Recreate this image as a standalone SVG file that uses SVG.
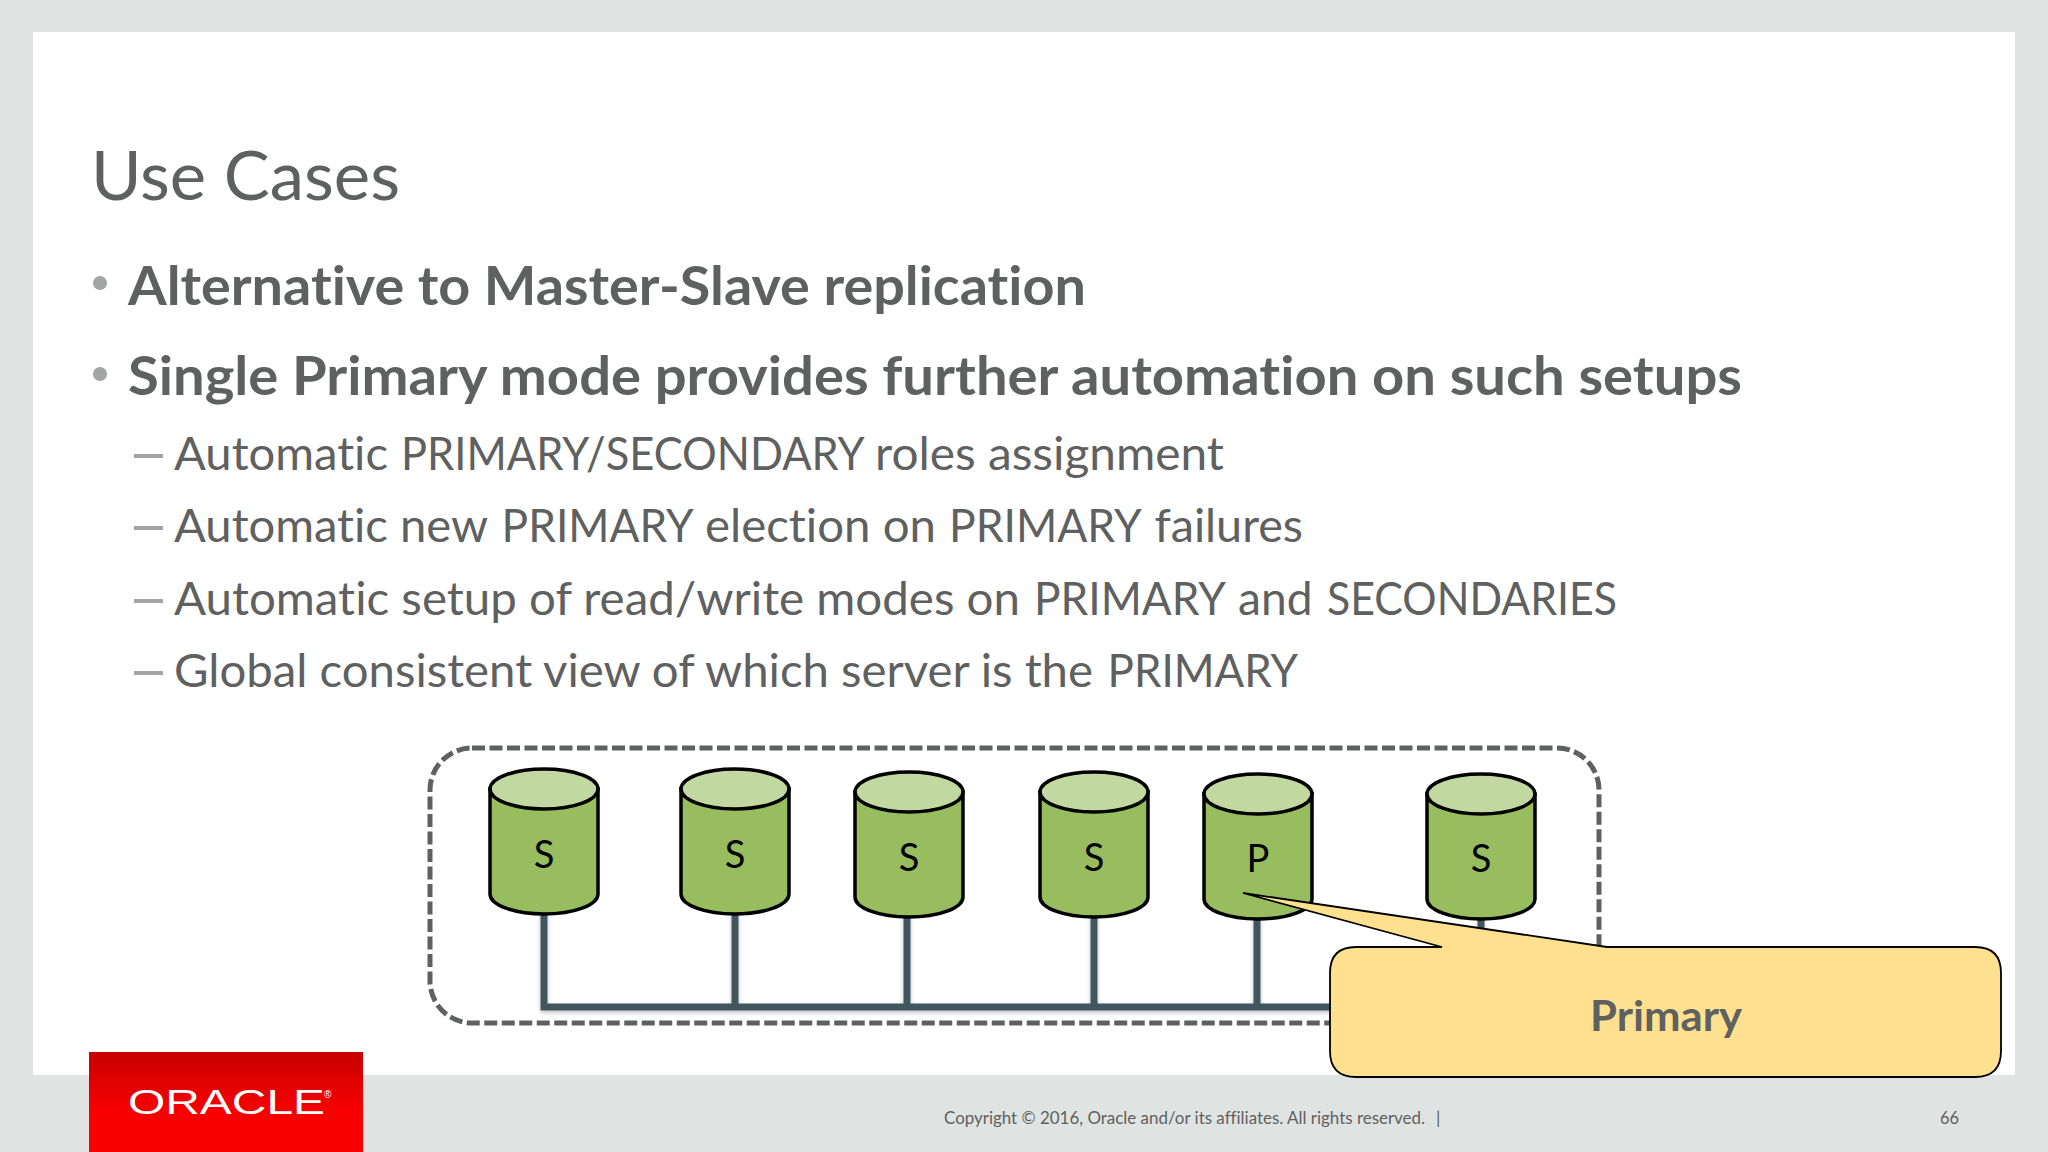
<svg xmlns="http://www.w3.org/2000/svg" width="2048" height="1152" viewBox="0 0 2048 1152">
<style>
text{font-family:"Lato","Open Sans",sans-serif;fill:#5f6060;font-variant-ligatures:none}
.b{font-weight:700;font-size:54px}
.s{font-size:47px}
.dash{fill:#a3a5a5}
.cyl path{fill:#97bd5f;stroke:#000;stroke-width:3.5}
.cyl ellipse{fill:#c1d9a1;stroke:#000;stroke-width:3.5}
.cyl text{fill:#000;font-size:38px;text-anchor:middle}
.ln{fill:none;stroke:#43565f;stroke-width:7}
</style>
<defs>
<linearGradient id="red" x1="0" y1="0" x2="0" y2="1"><stop offset="0" stop-color="#c80000"/><stop offset="0.6" stop-color="#f80000"/></linearGradient>
<filter id="sh" x="-5%" y="-5%" width="110%" height="115%"><feDropShadow dx="0" dy="2" stdDeviation="2" flood-color="#000" flood-opacity="0.25"/></filter>
</defs>
<rect width="2048" height="1152" fill="#dfe4e3"/>
<rect x="33" y="32" width="1982" height="1043" fill="#fff"/>
<g id="logo"><rect x="89" y="1052" width="274" height="100" fill="url(#red)"/>
<text x="128" y="1114" font-size="35" textLength="197" lengthAdjust="spacingAndGlyphs" style="font-family:'Liberation Sans',sans-serif;fill:#fff">ORACLE</text>
<text x="324" y="1098" font-size="10" style="font-family:'Liberation Sans',sans-serif;fill:#fff">®</text></g>
<text id="title" x="91" y="199.500" font-size="68" textLength="309" lengthAdjust="spacingAndGlyphs">Use Cases</text>
<g id="bullets">
<circle class="dash" cx="100" cy="283" r="7"/><circle class="dash" cx="100" cy="374" r="7"/>
<text class="b" x="128" y="305" textLength="958" lengthAdjust="spacingAndGlyphs">Alternative to Master-Slave replication</text>
<text class="b" x="128" y="395" textLength="1614" lengthAdjust="spacingAndGlyphs">Single Primary mode provides further automation on such setups</text>
<rect class="dash" x="134" y="454" width="29" height="4"/><rect class="dash" x="134" y="526" width="29" height="4"/><rect class="dash" x="134" y="599" width="29" height="4"/><rect class="dash" x="134" y="671" width="29" height="4"/>
<text class="s" y="470"><tspan x="174" textLength="214" lengthAdjust="spacingAndGlyphs">Automatic</tspan> <tspan x="401" textLength="462" lengthAdjust="spacingAndGlyphs">PRIMARY/SECONDARY</tspan> <tspan x="875" textLength="349" lengthAdjust="spacingAndGlyphs">roles assignment</tspan></text>
<text class="s" y="542"><tspan x="174" textLength="313" lengthAdjust="spacingAndGlyphs">Automatic new</tspan> <tspan x="501.500" textLength="190.500" lengthAdjust="spacingAndGlyphs">PRIMARY</tspan> <tspan x="705" textLength="231" lengthAdjust="spacingAndGlyphs">election on</tspan> <tspan x="949" textLength="191" lengthAdjust="spacingAndGlyphs">PRIMARY</tspan> <tspan x="1154.500" textLength="148.500" lengthAdjust="spacingAndGlyphs">failures</tspan></text>
<text class="s" y="615"><tspan x="174" textLength="846" lengthAdjust="spacingAndGlyphs">Automatic setup of read/write modes on</tspan> <tspan x="1034" textLength="190" lengthAdjust="spacingAndGlyphs">PRIMARY</tspan> <tspan x="1238" textLength="74.500" lengthAdjust="spacingAndGlyphs">and</tspan> <tspan x="1327" textLength="290" lengthAdjust="spacingAndGlyphs">SECONDARIES</tspan></text>
<text class="s" y="687"><tspan x="174" textLength="919" lengthAdjust="spacingAndGlyphs">Global consistent view of which server is the</tspan> <tspan x="1107.500" textLength="190.500" lengthAdjust="spacingAndGlyphs">PRIMARY</tspan></text>
</g>
<rect id="cluster" x="430" y="748" width="1169" height="275" rx="42" fill="none" stroke="#5f6060" stroke-width="5" stroke-dasharray="13 4.500"/>
<g id="connectors" filter="url(#sh)">
<path class="ln" d="M544 912V1007H1340"/>
<path class="ln" d="M735 912V1007M907 915V1007M1094 915V1007M1257 917V1007M1481 917V960"/>
</g>
<g id="n1" class="cyl"><path d="M490 789V894A54 20 0 0 0 598 894V789Z"/><ellipse cx="544" cy="789" rx="54" ry="20"/><text x="544" y="868">S</text></g>
<g id="n2" class="cyl"><path d="M681 789V894A54 20 0 0 0 789 894V789Z"/><ellipse cx="735" cy="789" rx="54" ry="20"/><text x="735" y="868">S</text></g>
<g id="n3" class="cyl"><path d="M855 792V897A54 20 0 0 0 963 897V792Z"/><ellipse cx="909" cy="792" rx="54" ry="20"/><text x="909" y="870.500">S</text></g>
<g id="n4" class="cyl"><path d="M1040 792V897A54 20 0 0 0 1148 897V792Z"/><ellipse cx="1094" cy="792" rx="54" ry="20"/><text x="1094" y="870.500">S</text></g>
<g id="n5" class="cyl"><path d="M1204 794V899A54 20 0 0 0 1312 899V794Z"/><ellipse cx="1258" cy="794" rx="54" ry="20"/><text x="1258" y="872">P</text></g>
<g id="n6" class="cyl"><path d="M1427 794V899A54 20 0 0 0 1535 899V794Z"/><ellipse cx="1481" cy="794" rx="54" ry="20"/><text x="1481" y="872">S</text></g>
<g id="callout">
<path d="M1356 947H1442L1243 893L1607 947H1975Q2001 947 2001 973V1051Q2001 1077 1975 1077H1356Q1330 1077 1330 1051V973Q1330 947 1356 947Z" fill="#fee08f" stroke="#000" stroke-width="1.800"/>
<text x="1590" y="1031" font-size="42" font-weight="700" textLength="152" lengthAdjust="spacingAndGlyphs">Primary</text>
</g>
<g id="footer">
<text x="944" y="1124" font-size="17.500" textLength="481" lengthAdjust="spacingAndGlyphs">Copyright © 2016, Oracle and/or its affiliates. All rights reserved.</text>
<text x="1436" y="1124" font-size="17.500">|</text>
<text x="1940" y="1124" font-size="17.500" textLength="19" lengthAdjust="spacingAndGlyphs">66</text>
</g>
</svg>
